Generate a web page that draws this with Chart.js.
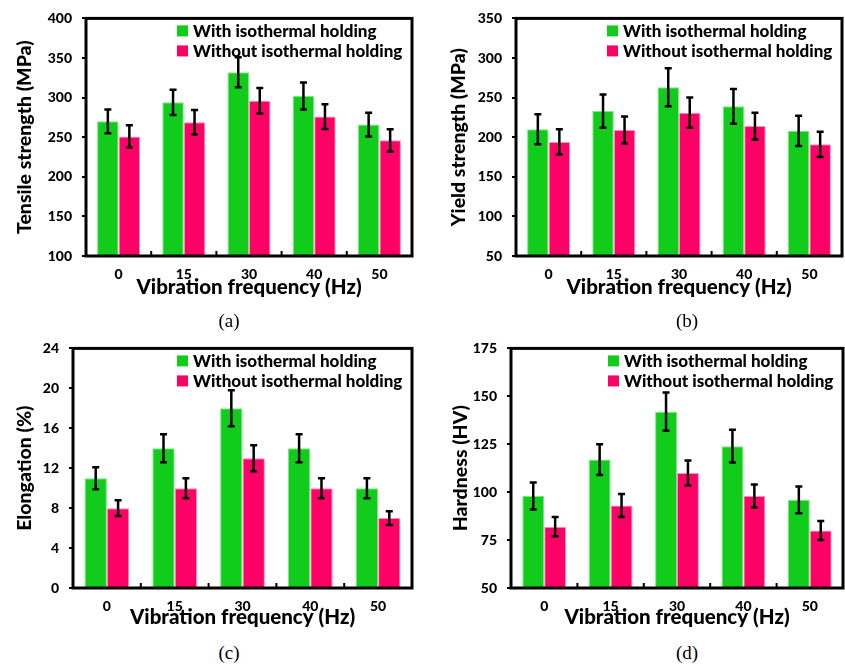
<!DOCTYPE html>
<html>
<head>
<meta charset="utf-8">
<script src="https://cdn.jsdelivr.net/npm/chart.js@4.4.0/dist/chart.umd.min.js"></script>
<style>
  body { margin: 0; background: #fff; width: 845px; height: 666px; position: relative; overflow: hidden; }
  canvas { position: absolute; }
  .cap { position: absolute; width: 60px; text-align: center; font-family: "Liberation Serif", serif; font-size: 19px; color: #000; }
</style>
</head>
<body>
<canvas id="chartA" width="420" height="300" style="left:0;top:0"></canvas>
<canvas id="chartB" width="425" height="300" style="left:420px;top:0"></canvas>
<canvas id="chartC" width="420" height="300" style="left:0;top:330px"></canvas>
<canvas id="chartD" width="425" height="300" style="left:420px;top:330px"></canvas>
<div class="cap" style="left:199px;top:310px">(a)</div>
<div class="cap" style="left:657px;top:310px">(b)</div>
<div class="cap" style="left:199px;top:642px">(c)</div>
<div class="cap" style="left:657px;top:642px">(d)</div>
<script>
const frequencies = ['0', '15', '30', '40', '50'];
const seriesNames = ['With isothermal holding', 'Without isothermal holding'];

const tensileWith = [270, 294, 332, 302, 266];
const tensileWithErr = [15, 16, 19, 17, 15];
const tensileWithout = [251, 269, 296, 276, 246];
const tensileWithoutErr = [14, 15.5, 16, 15.5, 14];

const yieldWith = [210, 233, 263, 239, 208];
const yieldWithErr = [19, 21, 24, 22, 19];
const yieldWithout = [194, 209, 231, 214, 191];
const yieldWithoutErr = [16, 17, 19, 17, 16];

const elongWith = [11, 14, 18, 14, 10];
const elongWithErr = [1.1, 1.4, 1.8, 1.4, 1];
const elongWithout = [8, 10, 13, 10, 7];
const elongWithoutErr = [0.8, 1, 1.3, 1, 0.7];

const hardWith = [98, 117, 142, 124, 96];
const hardWithErr = [7, 8, 10, 8.5, 7];
const hardWithout = [82, 93, 110, 98, 80];
const hardWithoutErr = [5, 6, 6.5, 6, 5];

const green = '#12cc1c';
const pink = '#ff0066';
const fontFam = 'Lato, "DejaVu Sans", sans-serif';

// error bars, frame, inner ticks and legend
const extras = {
  id: 'extras',
  afterDatasetsDraw(chart) {
    const ctx = chart.ctx;
    const y = chart.scales.y;
    ctx.save();
    ctx.strokeStyle = '#000';
    ctx.lineWidth = 2.5;
    chart.data.datasets.forEach((ds, i) => {
      chart.getDatasetMeta(i).data.forEach((bar, j) => {
        const top = y.getPixelForValue(ds.data[j] + ds.errors[j]);
        const bot = y.getPixelForValue(ds.data[j] - ds.errors[j]);
        ctx.beginPath();
        ctx.moveTo(bar.x, top); ctx.lineTo(bar.x, bot);
        ctx.moveTo(bar.x - 3.5, top); ctx.lineTo(bar.x + 3.5, top);
        ctx.moveTo(bar.x - 3.5, bot); ctx.lineTo(bar.x + 3.5, bot);
        ctx.stroke();
      });
    });
    ctx.restore();
  },
  afterDraw(chart) {
    const ctx = chart.ctx;
    const a = chart.chartArea;
    const x = chart.scales.x;
    ctx.save();
    ctx.strokeStyle = '#000';
    ctx.lineWidth = 3;
    ctx.strokeRect(a.left, a.top, a.right - a.left, a.bottom - a.top);
    ctx.lineWidth = 2;
    ctx.beginPath();
    for (let i = 1; i < frequencies.length; i++) {
      const px = (x.getPixelForValue(i - 1) + x.getPixelForValue(i)) / 2;
      ctx.moveTo(px, a.bottom);
      ctx.lineTo(px, a.bottom - 5);
    }
    ctx.stroke();
    // legend
    ctx.font = '900 17px ' + fontFam;
    ctx.textBaseline = 'middle';
    chart.data.datasets.forEach((ds, i) => {
      const lx = a.right - 235;
      const ly = a.top + 7 + i * 20;
      ctx.fillStyle = ds.backgroundColor;
      ctx.fillRect(lx, ly, 11, 11);
      ctx.fillStyle = '#000';
      ctx.fillText(ds.label, lx + 16, ly + 6);
    });
    ctx.restore();
  }
};

function makeChart(id, cfg) {
  new Chart(document.getElementById(id), {
    type: 'bar',
    data: {
      labels: frequencies,
      datasets: [
        { label: seriesNames[0], data: cfg.with, errors: cfg.withErr, backgroundColor: green, borderColor: '#7be882', borderWidth: 1, borderSkipped: 'bottom' },
        { label: seriesNames[1], data: cfg.without, errors: cfg.withoutErr, backgroundColor: pink, borderColor: '#ff8fbc', borderWidth: 1, borderSkipped: 'bottom' }
      ]
    },
    options: {
      responsive: false,
      animation: false,
      devicePixelRatio: 1,
      layout: { padding: { top: cfg.padTop, right: cfg.padRight, left: 0, bottom: 0 } },
      plugins: { legend: { display: false }, tooltip: { enabled: false } },
      datasets: { bar: { barPercentage: 1, categoryPercentage: 0.66 } },
      scales: {
        x: {
          grid: { display: false },
          border: { display: false },
          ticks: { color: '#000', font: { family: fontFam, weight: '900', size: 14 }, padding: 2 },
          title: { display: true, text: 'Vibration frequency (Hz)', color: '#000', font: { family: fontFam, weight: '900', size: 20.5 }, padding: 0 },
          afterFit: s => { s.height = cfg.xHeight; }
        },
        y: {
          min: cfg.min, max: cfg.max,
          ticks: { stepSize: cfg.step, color: '#000', font: { family: fontFam, weight: '900', size: 14 }, padding: 10 },
          grid: { drawOnChartArea: false, color: '#000', lineWidth: 2, tickLength: 4 },
          border: { display: false },
          title: { display: true, text: cfg.title, color: '#000', font: { family: fontFam, weight: '900', size: 19.5 }, padding: { top: cfg.titlePad } },
          afterFit: s => { s.width = cfg.yWidth; }
        }
      }
    },
    plugins: [extras]
  });
}

makeChart('chartA', { with: tensileWith, withErr: tensileWithErr, without: tensileWithout, withoutErr: tensileWithoutErr,
  min: 100, max: 400, step: 50, title: 'Tensile strength (MPa)', padTop: 17, padRight: 8, xHeight: 44, yWidth: 86, titlePad: 13 });
makeChart('chartB', { with: yieldWith, withErr: yieldWithErr, without: yieldWithout, withoutErr: yieldWithoutErr,
  min: 50, max: 350, step: 50, title: 'Yield strength (MPa)', padTop: 17, padRight: 3, xHeight: 44, yWidth: 96, titlePad: 27 });
makeChart('chartC', { with: elongWith, withErr: elongWithErr, without: elongWithout, withoutErr: elongWithoutErr,
  min: 0, max: 24, step: 4, title: 'Elongation (%)', padTop: 17, padRight: 8, xHeight: 42, yWidth: 73, titlePad: 13 });
makeChart('chartD', { with: hardWith, withErr: hardWithErr, without: hardWithout, withoutErr: hardWithoutErr,
  min: 50, max: 175, step: 25, title: 'Hardness (HV)', padTop: 17, padRight: 2, xHeight: 42, yWidth: 91, titlePad: 29 });
</script>
</body>
</html>
